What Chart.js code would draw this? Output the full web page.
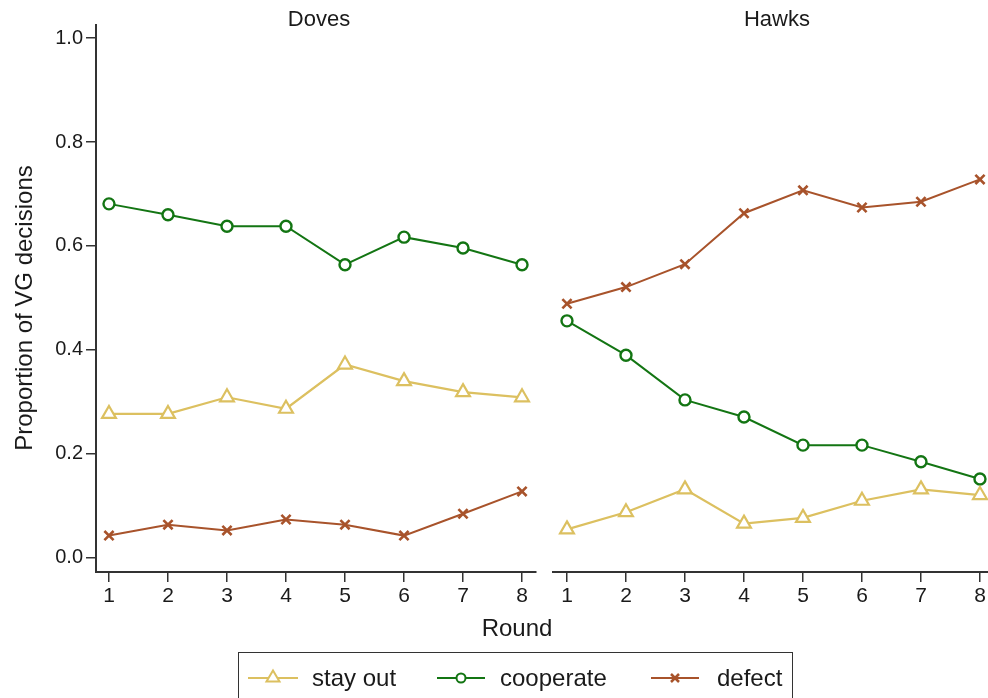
<!DOCTYPE html>
<html>
<head>
<meta charset="utf-8">
<script src="https://cdn.jsdelivr.net/npm/chart.js@4"></script>
<style>
  html, body { margin: 0; padding: 0; background: #fff; overflow: hidden; }
  body { width: 988px; height: 698px; position: relative; font-family: "Liberation Sans", Arial, sans-serif; color: #1a1a1a; }
  canvas { position: absolute; top: 0; }
  .lbl { position: absolute; white-space: nowrap; line-height: 1; }
  .legend { position: absolute; left: 238px; top: 652px; width: 555px; height: 60px; border: 1.5px solid #333; box-sizing: border-box; }
  .item { position: absolute; top: 13px; height: 24px; font-size: 24px; line-height: 24px; }
  .item svg { position: absolute; left: 0; top: 2px; }
  .item span { position: absolute; white-space: nowrap; }
</style>
</head>
<body>
<canvas id="doves"></canvas>
<canvas id="hawks"></canvas>

<div class="lbl" style="left:219px; top:8px; width:200px; text-align:center; font-size:22px;">Doves</div>
<div class="lbl" style="left:677px; top:8px; width:200px; text-align:center; font-size:22px;">Hawks</div>
<div class="lbl" style="left:417px; top:616px; width:200px; text-align:center; font-size:24px;">Round</div>
<div class="lbl" style="left:-126px; top:296px; width:300px; text-align:center; font-size:24px; transform: rotate(-90deg);">Proportion of VG decisions</div>

<div class="legend">
  <div class="item" style="left:9px;">
    <svg width="50" height="20"><line x1="0" y1="10" x2="50" y2="10" stroke="#dcc060" stroke-width="2"/><polygon points="25,2.5 31.5,13.5 18.5,13.5" fill="#fff" stroke="#dcc060" stroke-width="2"/></svg>
    <span style="left:64px;">stay out</span>
  </div>
  <div class="item" style="left:198px;">
    <svg width="50" height="20"><line x1="0" y1="10" x2="48" y2="10" stroke="#137513" stroke-width="2"/><circle cx="24" cy="10" r="4.5" fill="#fff" stroke="#137513" stroke-width="2"/></svg>
    <span style="left:63px;">cooperate</span>
  </div>
  <div class="item" style="left:412px;">
    <svg width="50" height="20"><line x1="0" y1="10" x2="48" y2="10" stroke="#a8532b" stroke-width="2"/><path d="M20,6 L28,14 M28,6 L20,14" stroke="#a8532b" stroke-width="2.5"/></svg>
    <span style="left:66px;">defect</span>
  </div>
</div>

<script>
// rounds and tick values
const rounds = [1, 2, 3, 4, 5, 6, 7, 8];
const yTicks = [0, 0.2, 0.4, 0.6, 0.8, 1.0];

// Doves
const dovesStayOut = [0.277, 0.277, 0.309, 0.287, 0.372, 0.340, 0.319, 0.309];
const dovesCooperate = [0.681, 0.660, 0.638, 0.638, 0.564, 0.617, 0.596, 0.564];
const dovesDefect = [0.043, 0.064, 0.053, 0.074, 0.064, 0.043, 0.085, 0.128];

// Hawks
const hawksStayOut = [0.055, 0.088, 0.132, 0.066, 0.077, 0.110, 0.132, 0.121];
const hawksCooperate = [0.456, 0.390, 0.304, 0.271, 0.217, 0.217, 0.185, 0.152];
const hawksDefect = [0.489, 0.521, 0.565, 0.663, 0.707, 0.674, 0.685, 0.728];

const colStay = '#dcc060';
const colCoop = '#137513';
const colDef = '#a8532b';
const axisCol = '#333';
const fontFam = '"Liberation Sans", Arial, sans-serif';

const pts = vals => rounds.map((r, i) => ({ x: r, y: vals[i] }));

function makeSets(stay, coop, def) {
  return [
    { label: 'stay out', data: pts(stay), borderColor: colStay, backgroundColor: '#fff',
      borderWidth: 2.2, pointStyle: 'triangle', pointRadius: 8, pointBorderWidth: 2.2 },
    { label: 'cooperate', data: pts(coop), borderColor: colCoop, backgroundColor: '#fff',
      borderWidth: 2, pointStyle: 'circle', pointRadius: 5.5, pointBorderWidth: 2.4 },
    { label: 'defect', data: pts(def), borderColor: colDef, backgroundColor: colDef,
      borderWidth: 2, pointStyle: 'crossRot', pointRadius: 6.5, pointBorderWidth: 2.6 }
  ];
}

function makeChart(id, left, width, pad, xMin, xMax, showY, sets) {
  const cv = document.getElementById(id);
  cv.style.left = left + 'px';
  cv.width = width;
  cv.height = 698;
  cv.style.width = width + 'px';
  cv.style.height = '698px';
  return new Chart(cv, {
    type: 'line',
    data: { datasets: sets },
    options: {
      responsive: false,
      animation: false,
      layout: { padding: pad },
      plugins: { legend: { display: false }, tooltip: { enabled: false } },
      elements: { line: { tension: 0 } },
      scales: {
        x: {
          type: 'linear', min: xMin, max: xMax,
          afterBuildTicks: s => { s.ticks = rounds.map(v => ({ value: v })); },
          afterFit: s => { s.height = 126; },
          border: { display: true, color: axisCol, width: 2 },
          grid: { drawOnChartArea: false, drawTicks: true, tickLength: 10, color: axisCol, lineWidth: 1.5 },
          ticks: { color: '#1a1a1a', font: { family: fontFam, size: 21 }, padding: 2, maxRotation: 0 }
        },
        y: {
          display: showY,
          min: -0.027, max: 1.025,
          afterBuildTicks: s => { s.ticks = yTicks.map(v => ({ value: v })); },
          // hidden axis on the right panel must take no room
          afterFit: s => { s.width = showY ? 96 : 0; },
          border: { display: true, color: axisCol, width: 2 },
          grid: { drawOnChartArea: false, drawTicks: true, tickLength: 10, color: axisCol, lineWidth: 1.5 },
          ticks: { color: '#1a1a1a', font: { family: fontFam, size: 20 }, padding: 3,
                   callback: v => v.toFixed(1) }
        }
      }
    }
  });
}

makeChart('doves', 0, 560, { left: 0, right: 24, top: 25, bottom: 0 }, 0.78, 8.237, true,
  makeSets(dovesStayOut, dovesCooperate, dovesDefect));
// right panel runs past the page edge; the canvas is wider and clipped by the body
makeChart('hawks', 540, 464, { left: 13, right: 16, top: 25, bottom: 0 }, 0.763, 8.136, false,
  makeSets(hawksStayOut, hawksCooperate, hawksDefect));
</script>
</body>
</html>
